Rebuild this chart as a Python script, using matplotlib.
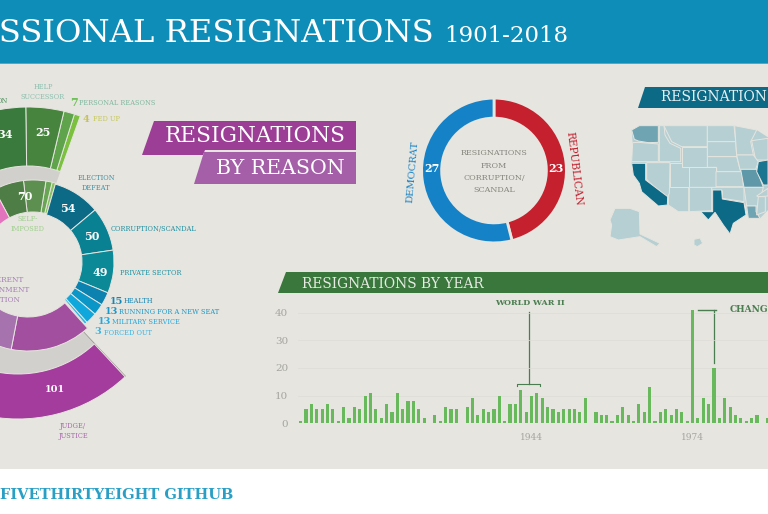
"""Congressional resignations infographic, cropped like the reference."""

import matplotlib

matplotlib.use("Agg")

import matplotlib.pyplot as plt
from matplotlib.patches import Polygon, Rectangle, Wedge

WIDTH, HEIGHT = 768, 514
PAPER = "#e6e5df"
SLAB = "DejaVu Serif"

# reason wheel, in the order they run clockwise
GREEN_VALUES = [34, 25, 7, 4]
GREEN_OUTER_COLORS = ["#3b7a3d", "#47853f", "#5fa34c", "#7cc040"]
GREEN_INNER_COLORS = ["#4e7d46", "#5c8f50", "#68a655", "#86c060"]
TEAL_VALUES = [54, 50, 49, 15, 13, 13, 3]
TEAL_COLORS = ["#0d6a86", "#0a8093", "#0c8997", "#0b82b0", "#0b96c8", "#10a8dc", "#25b7e6"]
PURPLE_INNER_VALUES = [84, 40]
PURPLE_INNER_COLORS = ["#a24f9f", "#a673ae"]
PURPLE_OUTER_VALUE = 101
PINK_VALUE = 25

# party split of corruption / scandal resignations
PARTY_VALUES = [23, 27]
PARTY_COLORS = ["#c4202e", "#1582c8"]

# resignations per year, 1901-1988 are the years visible in the crop
FIRST_YEAR = 1901
YEAR_COUNTS = [
    1, 5, 7, 5, 5, 7, 5, 1, 6, 2, 6, 5, 10, 11, 5, 2, 7, 4, 11, 5, 8, 8,
    5, 2, 0, 3, 1, 6, 5, 5, 0, 6, 9, 3, 5, 4, 5, 10, 1, 7, 7, 12, 4, 10,
    11, 9, 6, 5, 4, 5, 5, 5, 4, 9, 0, 4, 3, 3, 1, 3, 6, 3, 1, 7, 4, 13,
    1, 4, 5, 3, 5, 4, 1, 41, 2, 9, 7, 20, 2, 9, 6, 3, 2, 1, 2, 3, 0, 2,
]
YEAR_TICKS = [1944, 1974]
COUNT_TICKS = [0, 10, 20, 30, 40]

# shade of each state on the map, outlines
LIGHT_STATE = "#b6cfd3"
STATE_SHADES = {
    "WA": "#6fa4b3", "OR": LIGHT_STATE, "ID": LIGHT_STATE, "MT": LIGHT_STATE, "WY": LIGHT_STATE,
    "ND": LIGHT_STATE, "SD": LIGHT_STATE, "NE": LIGHT_STATE, "MN": LIGHT_STATE, "WI": LIGHT_STATE,
    "IA": LIGHT_STATE, "CO": LIGHT_STATE, "KS": LIGHT_STATE, "MO": "#5f98a9", "IL": "#1b7590",
    "OK": LIGHT_STATE, "TX": "#0d6a86", "NM": LIGHT_STATE, "AZ": LIGHT_STATE, "UT": LIGHT_STATE,
    "NV": LIGHT_STATE, "CA": "#0d6a86", "AR": LIGHT_STATE, "LA": "#6fa4b3", "MS": LIGHT_STATE,
    "TN": LIGHT_STATE, "AK": LIGHT_STATE, "HI": LIGHT_STATE,
}
LOWER_48 = [(125, 150), (148, 137), (430, 137), (500, 150), (534, 172), (534, 390), (510, 415),
            (475, 412), (465, 370), (395, 355), (362, 392), (265, 395), (235, 370), (170, 300),
            (130, 285), (125, 245), (128, 188)]
STATE_OUTLINES = {
    "WA": [(148, 137), (205, 137), (205, 187), (175, 188), (145, 183), (133, 178), (125, 150)],
    "OR": [(128, 188), (145, 187), (205, 192), (205, 245), (125, 245)],
    "ID": [(208, 137), (222, 137), (225, 165), (240, 190), (272, 205), (272, 245), (208, 245)],
    "MT": [(222, 137), (352, 137), (352, 200), (275, 200), (245, 185), (228, 150)],
    "WY": [(275, 200), (352, 200), (352, 260), (275, 260)],
    "ND": [(352, 137), (432, 137), (437, 185), (352, 185)],
    "SD": [(352, 185), (437, 185), (440, 230), (352, 230)],
    "NE": [(352, 230), (440, 230), (452, 275), (380, 275), (380, 262), (352, 262)],
    "MN": [(434, 137), (500, 150), (482, 185), (490, 225), (440, 225)],
    "WI": [(485, 182), (534, 175), (534, 240), (497, 240)],
    "IA": [(440, 225), (490, 225), (505, 245), (497, 268), (450, 268)],
    "CO": [(296, 262), (378, 262), (378, 322), (296, 322)],
    "KS": [(378, 275), (458, 275), (460, 320), (378, 320)],
    "MO": [(452, 268), (500, 268), (520, 322), (462, 322)],
    "IL": [(505, 245), (534, 240), (534, 315), (520, 315), (500, 275)],
    "OK": [(365, 322), (462, 322), (462, 365), (397, 355), (397, 333), (365, 330)],
    "TX": [(368, 330), (395, 330), (397, 357), (462, 368), (468, 405), (430, 430), (420, 462),
           (400, 435), (375, 397), (355, 420), (332, 395), (368, 395)],
    "NM": [(298, 322), (365, 322), (365, 392), (298, 395)],
    "AZ": [(237, 322), (296, 322), (296, 395), (265, 395), (235, 375)],
    "UT": [(240, 248), (275, 248), (275, 262), (296, 262), (296, 322), (240, 322)],
    "NV": [(170, 248), (240, 248), (238, 340), (228, 358), (170, 298)],
    "CA": [(125, 250), (167, 250), (167, 300), (233, 350), (232, 375), (205, 378), (155, 335),
           (148, 310), (130, 285)],
    "AR": [(462, 322), (520, 322), (505, 378), (470, 378)],
    "LA": [(470, 378), (498, 378), (498, 395), (510, 415), (475, 415)],
    "MS": [(505, 350), (526, 350), (526, 395), (500, 405)],
    "TN": [(500, 348), (534, 325), (534, 348), (505, 350)],
    "AK": [(75, 385), (120, 385), (148, 395), (150, 462), (210, 490), (200, 500), (150, 470),
           (85, 480), (60, 470), (65, 435), (60, 420)],
    "HI": [(312, 478), (330, 474), (338, 490), (322, 500), (312, 495)],
}


def ring(ax, center, r_in, r_out, start, values, colors, rate):
    # start is a screen angle in degrees, a positive rate runs anticlockwise from it
    angle = start
    for value, color in zip(values, colors):
        end = angle + value * rate
        ax.add_patch(Wedge(center, r_out, -max(angle, end), -min(angle, end), width=r_out - r_in,
                           facecolor=color, edgecolor=PAPER, linewidth=0.7))
        angle = end
    return angle


def label(ax, x, y, text, color, size=4.8, ha="left", weight="normal", **kwargs):
    ax.text(x, y, text, color=color, fontsize=size, ha=ha, va="center", family=SLAB,
            weight=weight, linespacing=1.25, **kwargs)


def map_points(outline):
    return [(590 + x / 3, 80 + y / 3) for x, y in outline]


fig = plt.figure(figsize=(WIDTH / 100, HEIGHT / 100), dpi=100, facecolor="white")
ax = fig.add_axes([0, 0, 1, 1])
ax.set_xlim(0, WIDTH)
ax.set_ylim(HEIGHT, 0)
ax.axis("off")

ax.add_patch(Rectangle((0, 64), WIDTH, 405, facecolor=PAPER, edgecolor="none"))
ax.add_patch(Rectangle((0, 0), WIDTH, 63, facecolor="#0d8db7", edgecolor="none"))
ax.add_patch(Rectangle((0, 63), WIDTH, 1, facecolor="#45add0", edgecolor="none"))
label(ax, 434, 33, "CONGRESSIONAL RESIGNATIONS", "white", size=23.2, ha="right")
label(ax, 444, 36, "1901-2018", "white", size=16.5)
label(ax, 0, 495, "FIVETHIRTYEIGHT GITHUB", "#2a9fc5", size=10.5, weight="bold")

# reason wheel
WHEEL = (33, 262)
OUTER_TOP = (28, 262)
OUTER_BOTTOM = (18, 262)
RATE = 0.63
ax.add_patch(Wedge(OUTER_TOP, 98, -135, -70.3, width=21, facecolor="#d2d0cc", edgecolor="none"))
ax.add_patch(Wedge(OUTER_BOTTOM, 113, 47, 115, width=30, facecolor="#d2d0cc", edgecolor="none"))
ax.add_patch(Wedge(OUTER_BOTTOM, 157, 46.6, 47, width=73, facecolor="#8f9088", edgecolor="none"))

ring(ax, OUTER_TOP, 96, 155, 70.3, GREEN_VALUES[::-1], GREEN_OUTER_COLORS[::-1], 0.57)
green_end = ring(ax, WHEEL, 50, 82, 74, GREEN_VALUES[::-1], GREEN_INNER_COLORS[::-1], RATE)
ring(ax, WHEEL, 50, 82, green_end, [PINK_VALUE], ["#e274bd"], RATE)
ring(ax, WHEEL, 49, 81, 74, TEAL_VALUES, TEAL_COLORS, -RATE)
ring(ax, (28, 262), 55, 89, -48, PURPLE_INNER_VALUES, PURPLE_INNER_COLORS, -RATE)
ring(ax, OUTER_BOTTOM, 112, 157, -47, [PURPLE_OUTER_VALUE], ["#a33c9c"], -0.57)

for x, y, value, size in [(5, 134, GREEN_VALUES[0], 8), (43, 133, GREEN_VALUES[1], 8),
                          (25, 196, sum(GREEN_VALUES), 8), (68, 208, TEAL_VALUES[0], 8),
                          (92, 237, TEAL_VALUES[1], 8), (100, 273, TEAL_VALUES[2], 8),
                          (55, 389, PURPLE_OUTER_VALUE, 7)]:
    label(ax, x, y, str(value), "white", size=size, ha="center", weight="bold")

label(ax, 43, 92, "HELP\nSUCCESSOR", "#8cbfb0", ha="center")
label(ax, 8, 101, "ON", "#4d8f5c", ha="right")
label(ax, 74, 103, str(GREEN_VALUES[2]), "#6fbf5a", size=8, ha="center", weight="bold")
label(ax, 79, 103, "PERSONAL REASONS", "#7fb8a0")
label(ax, 86, 119, str(GREEN_VALUES[3]), "#c5c25a", size=7, ha="center", weight="bold")
label(ax, 93, 119, "FED UP", "#c5c85a")
label(ax, 96, 183, "ELECTION\nDEFEAT", "#3f8fa5", ha="center")
label(ax, 111, 229, "CORRUPTION/SCANDAL", "#1f8fa0")
label(ax, 120, 273, "PRIVATE SECTOR", "#1e93a3")
label(ax, 117, 301, str(TEAL_VALUES[3]), "#1787b5", size=7, ha="center", weight="bold")
label(ax, 124, 301, "HEALTH", "#1787b5")
label(ax, 112, 312, str(TEAL_VALUES[4]), "#1c98c8", size=7, ha="center", weight="bold")
label(ax, 119, 312, "RUNNING FOR A NEW SEAT", "#1c98c8")
label(ax, 105, 322, str(TEAL_VALUES[5]), "#22aadf", size=7, ha="center", weight="bold")
label(ax, 112, 322, "MILITARY SERVICE", "#22aadf")
label(ax, 98, 332, str(TEAL_VALUES[6]), "#38b5e4", size=7, ha="center", weight="bold")
label(ax, 104, 333, "FORCED OUT", "#38b5e4")
label(ax, 73, 431, "JUDGE/\nJUSTICE", "#a867ac", ha="center")
label(ax, 1, 290, "DIFFERENT\nGOVERNMENT\nPOSITION", "#a67fb4", size=5.2, ha="center")
label(ax, 28, 224, "SELF-\nIMPOSED", "#9fcf8d", ha="center")

# title ribbons
ax.add_patch(Polygon([(142, 155), (154, 121), (356, 121), (356, 150), (205, 150), (203, 155)],
                     facecolor="#9c3e96", edgecolor="none"))
ax.add_patch(Polygon([(194, 184), (204, 152), (356, 152), (356, 184)],
                     facecolor="#a45fa8", edgecolor="none"))
label(ax, 346, 136, "RESIGNATIONS", "white", size=15.6, ha="right")
label(ax, 345, 168, "BY REASON", "white", size=14.8, ha="right")

ax.add_patch(Polygon([(638, 108), (645, 87), (768, 87), (768, 108)], facecolor="#0d6a86", edgecolor="none"))
label(ax, 661, 97, "RESIGNATIONS BY STATE", "#e6f0f2", size=10)
ax.add_patch(Polygon([(278, 293), (286, 272), (768, 272), (768, 293)], facecolor="#39773c", edgecolor="none"))
label(ax, 302, 284, "RESIGNATIONS BY YEAR", "#e6ece2", size=9.95)

# state map
ax.add_patch(Polygon(map_points(LOWER_48), facecolor=LIGHT_STATE, edgecolor="none"))
for state, outline in STATE_OUTLINES.items():
    ax.add_patch(Polygon(map_points(outline), facecolor=STATE_SHADES[state], edgecolor=PAPER, linewidth=0.7))

# party donut
donut_ax = fig.add_axes([(494 - 76) / WIDTH, (HEIGHT - 170.5 - 76) / HEIGHT, 152 / WIDTH, 152 / HEIGHT])
donut_ax.pie(PARTY_VALUES, colors=PARTY_COLORS, startangle=90, counterclock=False,
             wedgeprops={"width": 0.276, "edgecolor": PAPER, "linewidth": 2})
donut_ax.set_xlim(-1.05, 1.05)
donut_ax.set_ylim(-1.05, 1.05)
label(donut_ax, 0.855, 0.03, str(PARTY_VALUES[0]), "white", size=8, ha="center", weight="bold")
label(donut_ax, -0.855, 0.03, str(PARTY_VALUES[1]), "white", size=8, ha="center", weight="bold")
for y, line in zip([153, 166, 178, 190], ["RESIGNATIONS", "FROM", "CORRUPTION/", "SCANDAL"]):
    label(ax, 494, y, line, "#85857d", size=5.8, ha="center")
label(ax, 413, 172, "DEMOCRAT", "#1582c8", size=7.2, ha="center", rotation=85, rotation_mode="anchor")
label(ax, 574, 169, "REPUBLICAN", "#c4202e", size=7.6, ha="center", rotation=-83, rotation_mode="anchor")

# yearly bars
bar_ax = fig.add_axes([298 / WIDTH, (HEIGHT - 423.3) / HEIGHT, 470 / WIDTH, 116.3 / HEIGHT])
bar_ax.patch.set_alpha(0)
years = [FIRST_YEAR + i for i in range(len(YEAR_COUNTS))]
bar_ax.bar(years, YEAR_COUNTS, width=0.58, color="#68b85c", zorder=3)
bar_ax.set_xlim(1900.5, 1988.05)
bar_ax.set_ylim(0, 42)
bar_ax.set_xticks(YEAR_TICKS)
bar_ax.set_xticklabels([str(y) for y in YEAR_TICKS], family=SLAB, fontsize=6.5, color="#a5a59f")
bar_ax.set_yticks(COUNT_TICKS)
bar_ax.set_yticklabels([str(c) for c in COUNT_TICKS], family=SLAB, fontsize=7.5, color="#a5a59f")
bar_ax.tick_params(length=0, pad=7)
bar_ax.grid(axis="y", color="#dcdcd5", linewidth=0.5, zorder=0)
for spine in bar_ax.spines.values():
    spine.set_visible(False)

# bar callouts
NOTE = "#4a7d50"
label(ax, 530, 303, "WORLD WAR II", NOTE, size=5.8, ha="center", weight="bold")
ax.plot([528.7, 528.7], [312, 384], color=NOTE, linewidth=0.9)
ax.plot([517, 517, 540, 540], [386, 384, 384, 386], color=NOTE, linewidth=0.8)
ax.plot([698, 716], [310, 310], color=NOTE, linewidth=1)
ax.plot([714, 714], [310, 363], color=NOTE, linewidth=0.9)
label(ax, 730, 310, "CHANGE", NOTE, size=6.5, weight="bold")

fig.savefig("out.png", dpi=100)
plt.close(fig)
